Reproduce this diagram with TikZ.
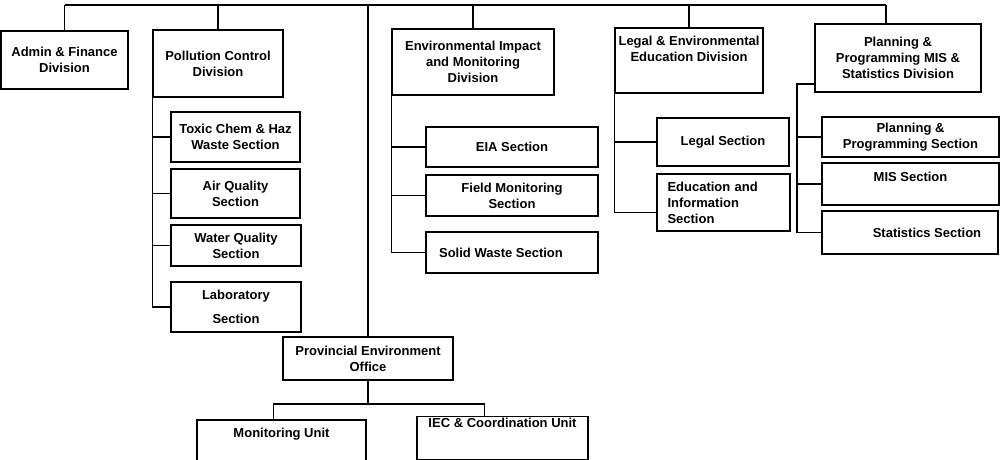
\documentclass[tikz,border=0pt]{standalone}
\usepackage{fontspec}
\setmainfont{Liberation Sans}
\begin{document}
\begin{tikzpicture}
    [x=1pt,y=-1pt,line width=1.2pt,every node/.style={draw,rectangle,align=center,inner sep=2pt,font=\bfseries\fontsize{13}{16}\selectfont}]
    \useasboundingbox (0,0) rectangle (1001,460);
    % divisions
    \node[minimum width=127pt,minimum height=58pt] (nAdm) at (64.5,60) {Admin \& Finance\\Division};
    \node[minimum width=130pt,minimum height=67pt] (nPol) at (218,63.5) {Pollution Control\\Division};
    \node[minimum width=162pt,minimum height=66pt] (nEnv) at (473,62) {Environmental Impact\\and Monitoring\\Division};
    \node[minimum width=148pt,minimum height=65pt,text depth=23pt] (nLeg) at (689,60.5) {Legal \& Environmental\\Education Division};
    \node[minimum width=166pt,minimum height=68pt] (nPlan) at (898,58) {Planning \&\\Programming MIS \&\\Statistics Division};
    % sections
    \node[minimum width=129pt,minimum height=50pt] (nTox) at (235.5,137) {Toxic Chem \& Haz\\Waste Section};
    \node[minimum width=129pt,minimum height=49pt] (nAir) at (235.5,193.5) {Air Quality\\Section};
    \node[minimum width=130pt,minimum height=41pt] (nWat) at (236,245.5) {Water Quality\\Section};
    \node[minimum width=130pt,minimum height=50pt] (nLab) at (236,307) {Laboratory\\[8pt]Section};
    \node[minimum width=172pt,minimum height=40pt] (nEia) at (512,147) {EIA Section};
    \node[minimum width=172pt,minimum height=41pt] (nFld) at (512,195.5) {Field Monitoring\\Section};
    \node[minimum width=172pt,minimum height=41pt] (nSol) at (512,252.5) {Solid Waste Section\hspace*{22pt}};
    \node[minimum width=132pt,minimum height=48pt] (nLgl) at (723,142) {Legal Section};
    \node[minimum width=133pt,minimum height=57pt,text width=112pt,align=left] (nEdu) at (723.5,202.5) {Education and\\Information\\Section};
    \node[minimum width=177pt,minimum height=40pt] (nPps) at (910.5,137) {Planning \&\\Programming Section};
    \node[minimum width=177pt,minimum height=42pt,text depth=14pt] (nMis) at (910.5,184) {MIS Section};
    \node[minimum width=176pt,minimum height=43pt] (nSta) at (910,232.5) {\hspace*{34pt}Statistics Section};
    % provincial office
    \node[minimum width=170pt,minimum height=43pt] (nPeo) at (368,358.5) {Provincial Environment\\Office};
    \node[minimum width=169pt,minimum height=42pt,text depth=16pt] (nMon) at (281.5,441) {Monitoring Unit};
    \node[minimum width=171pt,minimum height=38pt,text depth=30pt] (nIec) at (502.5,438) {IEC \& Coordination Unit};

    \coordinate (nBusL) at (64.5,5);
    \coordinate (nBusR) at (886,5);
    \coordinate (nPtop) at (797,84);
    \coordinate (nPbus) at (368,404);

    \draw (nBusL) -- (nBusR);
    \foreach \n in {nAdm,nPol,nEnv,nLeg,nPeo}
      \draw (\n.north |- nBusL) -- (\n.north);
    \draw (nBusR) -- (nBusR |- nPlan.north);

    \draw (nPol.south west) |- (nLab.west);
    \foreach \s in {nTox,nAir,nWat}
      \draw (nPol.south west |- \s.west) -- (\s.west);
    \draw (nEnv.south west) |- (nSol.west);
    \foreach \s in {nEia,nFld}
      \draw (nEnv.south west |- \s.west) -- (\s.west);
    \draw (nLeg.south west) |- ([yshift=-10pt]nEdu.west);
    \draw (nLeg.south west |- nLgl.west) -- (nLgl.west);
    \draw (nPtop -| nPlan.west) -- (nPtop) |- (nSta.west);
    \foreach \s in {nPps,nMis}
      \draw (nPtop |- \s.west) -- (\s.west);

    \draw (nPeo.south) -- (nPbus);
    \draw ([xshift=-8pt]nMon.north) |- (nPbus) -| ([xshift=-18pt]nIec.north);
\end{tikzpicture}
\end{document}
